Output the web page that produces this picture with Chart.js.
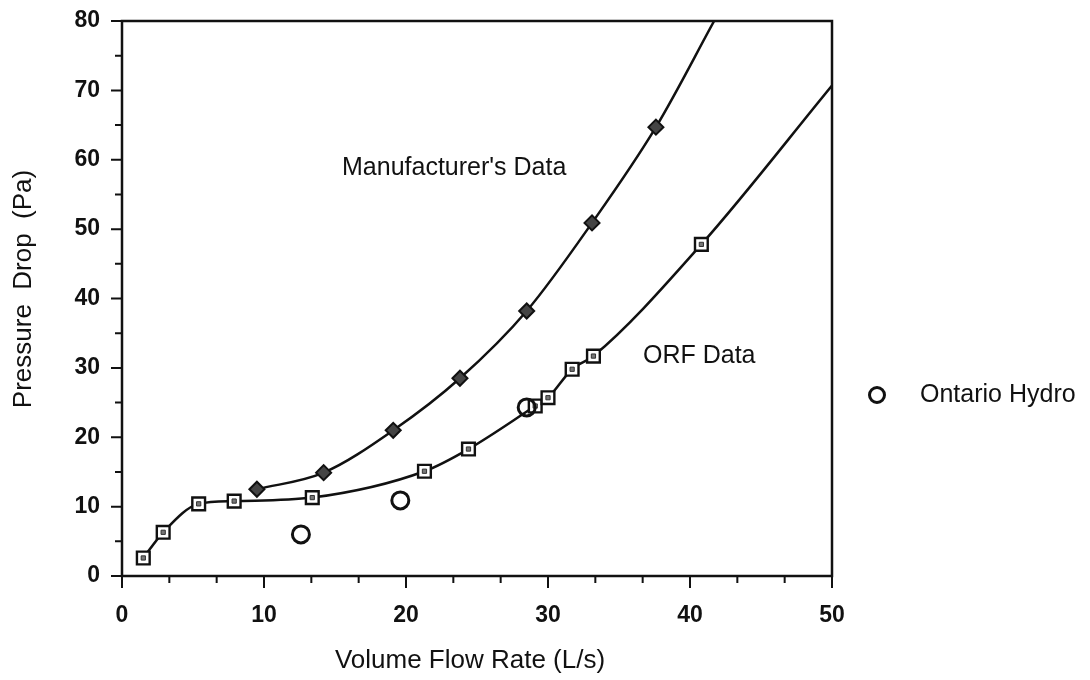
<!DOCTYPE html>
<html>
<head>
<meta charset="utf-8">
<script src="https://cdn.jsdelivr.net/npm/chart.js@4/dist/chart.umd.min.js"></script>
<style>
  html, body { margin: 0; padding: 0; background: #fff; }
  #wrap { width: 1090px; height: 680px; }
</style>
</head>
<body>
<div id="wrap"><canvas id="chart" width="1090" height="680"></canvas></div>
<script>
// Manufacturer's data (filled diamonds)
const mfrFlow = [9.5, 14.2, 19.1, 23.8, 28.5, 33.1, 37.6];
const mfrDrop = [12.5, 14.9, 21.0, 28.5, 38.2, 50.9, 64.7];
const mfrTail = { x: 41.7, y: 80 };   // where the fitted curve leaves the frame

// ORF data (open squares)
const orfFlow = [1.5, 2.9, 5.4, 7.9, 13.4, 21.3, 24.4, 29.1, 30.0, 31.7, 33.2, 40.8];
const orfDrop = [2.6, 6.3, 10.4, 10.8, 11.3, 15.1, 18.3, 24.5, 25.7, 29.8, 31.7, 47.8];
const orfTail = { x: 50, y: 70.7 };

// Ontario Hydro (open circles)
const ohFlow = [12.6, 19.6, 28.5];
const ohDrop = [6.0, 10.9, 24.3];

const xTicks = [0, 10, 20, 30, 40, 50];
const yTicks = [0, 10, 20, 30, 40, 50, 60, 70, 80];

const INK = "#111";
const FONT = "'Liberation Sans', Arial, sans-serif";

const pts = (xs, ys) => xs.map((x, i) => ({ x: x, y: ys[i] }));

// frame, tick marks, labels and legend
const decor = {
    id: "decor",
    afterDraw(chart) {
        const { ctx, chartArea: a, scales } = chart;
        const xs = scales.x, ys = scales.y;
        ctx.save();
        ctx.strokeStyle = INK;
        ctx.lineWidth = 2.5;
        ctx.strokeRect(a.left, a.top, a.right - a.left, a.bottom - a.top);

        ctx.lineWidth = 2;
        ctx.beginPath();
        for (let v = 0; v <= 50.001; v += 10 / 3) {
            const px = xs.getPixelForValue(v);
            const major = Math.abs(v / 10 - Math.round(v / 10)) < 1e-6;
            ctx.moveTo(px, a.bottom);
            ctx.lineTo(px, a.bottom + (major ? 12 : 7));
        }
        for (let v = 0; v <= 80; v += 5) {
            const py = ys.getPixelForValue(v);
            ctx.moveTo(a.left, py);
            ctx.lineTo(a.left - (v % 10 === 0 ? 11 : 7), py);
        }
        ctx.stroke();

        ctx.fillStyle = INK;
        ctx.font = "25px " + FONT;
        ctx.textBaseline = "middle";
        ctx.textAlign = "left";
        ctx.fillText("Manufacturer's Data", 342, 168);
        ctx.fillText("ORF Data", 643, 356);

        // legend
        ctx.lineWidth = 3;
        ctx.beginPath();
        ctx.arc(877, 395, 7.5, 0, Math.PI * 2);
        ctx.stroke();
        ctx.fillText("Ontario Hydro", 920, 395);

        // axis titles
        ctx.textAlign = "center";
        ctx.font = "26px " + FONT;
        ctx.fillText("Volume Flow Rate (L/s)", 470, 661);
        ctx.translate(24, 289);
        ctx.rotate(-Math.PI / 2);
        ctx.fillText("Pressure  Drop  (Pa)", 0, 0);
        ctx.restore();
    }
};

new Chart(document.getElementById("chart").getContext("2d"), {
    type: "scatter",
    data: {
        datasets: [
            {
                label: "Ontario Hydro",
                data: pts(ohFlow, ohDrop),
                showLine: false,
                pointStyle: "circle",
                pointRadius: 8.5,
                pointBorderWidth: 3,
                pointBackgroundColor: "rgba(0,0,0,0)",
                pointBorderColor: INK,
            },
            {
                label: "ORF centres",
                data: pts(orfFlow, orfDrop),
                showLine: false,
                pointStyle: "rect",
                pointRadius: 3,
                pointBorderWidth: 1,
                pointBackgroundColor: "#777",
                pointBorderColor: "#333",
            },
            {
                label: "ORF Data",
                data: pts(orfFlow, orfDrop).concat([orfTail]),
                showLine: true,
                cubicInterpolationMode: "monotone",
                borderColor: INK,
                borderWidth: 2.5,
                pointStyle: "rect",
                pointRadius: (c) => (c.dataIndex < orfFlow.length ? 9 : 0),
                pointBorderWidth: 2.4,
                pointBackgroundColor: "#fff",
                pointBorderColor: INK,
            },
            {
                label: "Manufacturer's Data",
                data: pts(mfrFlow, mfrDrop).concat([mfrTail]),
                showLine: true,
                cubicInterpolationMode: "monotone",
                borderColor: INK,
                borderWidth: 2.5,
                pointStyle: "rectRot",
                pointRadius: (c) => (c.dataIndex < mfrFlow.length ? 7.5 : 0),
                pointBorderWidth: 2,
                pointBackgroundColor: "#444",
                pointBorderColor: INK,
            },
        ],
    },
    options: {
        responsive: false,
        animation: false,
        layout: { padding: { left: 0, top: 21, right: 258, bottom: 0 } },
        plugins: { legend: { display: false }, tooltip: { enabled: false } },
        scales: {
            x: {
                type: "linear",
                min: 0,
                max: 50,
                afterFit: (s) => { s.height = 104; s.paddingLeft = 0; s.paddingRight = 0; },
                afterBuildTicks: (s) => { s.ticks = xTicks.map((v) => ({ value: v })); },
                grid: { display: false, drawTicks: false },
                border: { display: false },
                ticks: {
                    padding: 26,
                    color: INK,
                    font: { family: FONT, size: 23, weight: "bold" },
                    maxRotation: 0,
                },
            },
            y: {
                type: "linear",
                min: 0,
                max: 80,
                afterFit: (s) => { s.width = 122; s.paddingTop = 0; s.paddingBottom = 0; },
                afterBuildTicks: (s) => { s.ticks = yTicks.map((v) => ({ value: v })); },
                grid: { display: false, drawTicks: false },
                border: { display: false },
                ticks: {
                    padding: 22,
                    color: INK,
                    font: { family: FONT, size: 23, weight: "bold" },
                },
            },
        },
    },
    plugins: [decor],
});
</script>
</body>
</html>
